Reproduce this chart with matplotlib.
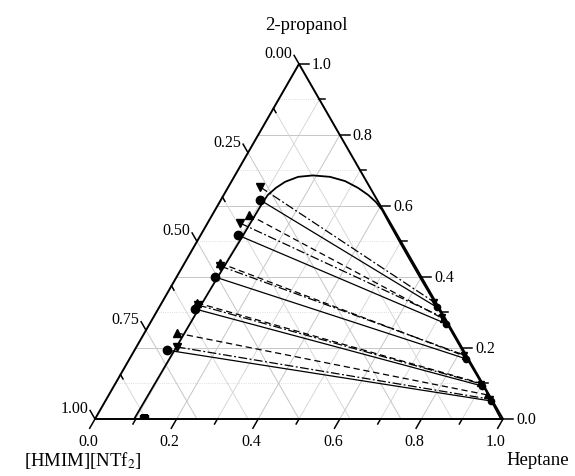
import numpy as np
import matplotlib.pyplot as plt
from matplotlib.patches import Polygon

plt.rcParams['font.family'] = ['Liberation Serif', 'DejaVu Serif']
plt.rcParams['mathtext.fontset'] = 'stix'

# mass fractions: heptane (bottom axis), 2-propanol (right axis)
binodal_hep = [0.096, 0.097, 0.098, 0.099, 0.101, 0.104, 0.106, 0.108, 0.118, 0.132,
               0.157, 0.191, 0.235, 0.278, 0.319, 0.354, 0.383, 0.409, 0.442,
               0.520, 0.600, 0.680, 0.760, 0.840, 0.920, 0.995]
binodal_pro = [0.000, 0.100, 0.200, 0.300, 0.400, 0.500, 0.606, 0.631, 0.651, 0.668,
               0.682, 0.686, 0.682, 0.670, 0.651, 0.631, 0.611, 0.589, 0.555,
               0.476, 0.396, 0.317, 0.237, 0.157, 0.078, 0.000]

# tie lines: left end = IL-rich phase, right end = heptane-rich phase
circ_hep_l = [0.096, 0.091, 0.094, 0.090, 0.079]
circ_pro_l = [0.617, 0.518, 0.400, 0.310, 0.194]
circ_hep_r = [0.680, 0.727, 0.826, 0.902, 0.944]
circ_pro_r = [0.315, 0.268, 0.169, 0.093, 0.051]

down_hep_l = [0.077, 0.079, 0.091, 0.092, 0.099]
down_pro_l = [0.654, 0.552, 0.431, 0.321, 0.203]
down_hep_r = [0.665, 0.708, 0.815, 0.896, 0.939]
down_pro_r = [0.330, 0.287, 0.180, 0.099, 0.056]

up_hep_l = [0.090, 0.087, 0.087, 0.080]
up_pro_l = [0.575, 0.439, 0.327, 0.242]
up_hep_r = [0.713, 0.818, 0.894, 0.927]
up_pro_r = [0.282, 0.177, 0.101, 0.068]

binary_hep = [0.12]
binary_pro = [0.0]

bottom_labels = ['0.0', '0.2', '0.4', '0.6', '0.8', '1.0']
right_labels = ['0.0', '0.2', '0.4', '0.6', '0.8', '1.0']
left_labels = ['0.00', '0.25', '0.50', '0.75', '1.00']

S = np.sqrt(3) / 2


def tern(h, p):
    h = np.asarray(h, float)
    p = np.asarray(p, float)
    return h + p / 2, p * S


fig = plt.figure(figsize=(5.75, 4.77), dpi=100)
ax = fig.add_axes([0, 0, 1, 1])
ax.set_xlim(-95 / 408, 480 / 408)
ax.set_ylim(-57 / 410, 420 / 410)
ax.set_axis_off()

# grid
gmaj = dict(color='#c6c6c6', lw=0.7, zorder=1)
gmin = dict(color='#d2d2d2', lw=0.6, zorder=1)
for i in range(1, 10):
    v = i / 10
    major = i % 2 == 0
    x, y = tern([0, 1 - v], [v, v])
    ax.plot(x, y, ls='-' if major else ':', **(gmaj if major else gmin))
    x, y = tern([v, v], [0, 1 - v])
    ax.plot(x, y, **(gmaj if major else gmin))
for i in range(1, 8):
    t = i / 8
    x, y = tern([0, 1 - t], [1 - t, 0])
    ax.plot(x, y, **(gmaj if i % 2 == 0 else gmin))

# frame
tri = Polygon([[0, 0], [1, 0], [0.5, S]], closed=True, fill=False,
              edgecolor='k', lw=1.4, zorder=5)
ax.add_patch(tri)

tk = dict(color='k', lw=1.1, clip_on=False, zorder=5)
fs_tick = 11.5

# bottom axis (heptane)
for i in range(11):
    h = i / 10
    L = 0.026 if i % 2 == 0 else 0.014
    x0, y0 = tern(h, 0)
    x1, y1 = x0 - 0.5 * L, y0 - S * L
    ax.plot([x0, x1], [y0, y1], **tk)
    if i % 2 == 0:
        ax.text(x1 - 0.004, y1 - 0.012, bottom_labels[i // 2], ha='center', va='top',
                fontsize=fs_tick)

# right axis (2-propanol)
for i in range(11):
    p = i / 10
    L = 0.024 if i % 2 == 0 else 0.014
    x0, y0 = tern(1 - p, p)
    ax.plot([x0, x0 + L], [y0, y0], **tk)
    if i % 2 == 0:
        ax.text(x0 + L + 0.008, y0, right_labels[i // 2], ha='left', va='center',
                fontsize=fs_tick)

# left axis ([HMIM][NTf2])
for i in range(9):
    t = i / 8
    x0, y0 = tern(0, 1 - t)
    if i % 2 == 0:
        L = 0.024
        x1, y1 = x0 - 0.5 * L, y0 + S * L
        ax.plot([x0, x1], [y0, y1], **tk)
        ax.text(x1 - 0.004, y1 + 0.006, left_labels[i // 2], ha='right', va='center',
                fontsize=fs_tick)
    else:
        L = 0.012
        ax.plot([x0, x0 + 0.5 * L], [y0, y0 - S * L], **tk)

# binodal
x, y = tern(binodal_hep, binodal_pro)
ax.plot(x, y, color='k', lw=1.3, zorder=4)

# tie lines
ts = dict(color='k', lw=0.9, zorder=3)
for hl, pl, hr, pr in zip(circ_hep_l, circ_pro_l, circ_hep_r, circ_pro_r):
    x, y = tern([hl, hr], [pl, pr])
    ax.plot(x, y, ls='-', **ts)
for hl, pl, hr, pr in zip(up_hep_l, up_pro_l, up_hep_r, up_pro_r):
    x, y = tern([hl, hr], [pl, pr])
    ax.plot(x, y, ls=(0, (5, 3)), **ts)
for hl, pl, hr, pr in zip(down_hep_l, down_pro_l, down_hep_r, down_pro_r):
    x, y = tern([hl, hr], [pl, pr])
    ax.plot(x, y, ls=(0, (7, 2, 1.5, 2)), **ts)

# markers: IL-rich side
mk = dict(color='k', ls='none', ms=6, zorder=6)
ax.plot(*tern(circ_hep_l, circ_pro_l), marker='o', **mk)
ax.plot(*tern(up_hep_l, up_pro_l), marker='^', **mk)
ax.plot(*tern(down_hep_l, down_pro_l), marker='v', **mk)
# heptane-rich side
mk['ms'] = 4.5
ax.plot(*tern(circ_hep_r, circ_pro_r), marker='o', **mk)
ax.plot(*tern(up_hep_r, up_pro_r), marker='^', **mk)
ax.plot(*tern(down_hep_r, down_pro_r), marker='v', **mk)

m, = ax.plot(*tern(binary_hep, binary_pro), marker='s', color='k', ls='none',
             ms=6, zorder=4)
m.set_clip_path(tri)

# component names
fs_name = 13.5
ax.text(0.518, (420 - 25) / 410, '2-propanol', ha='center', va='center', fontsize=fs_name)
ax.text(1.085, (420 - 461) / 410, 'Heptane', ha='center', va='center', fontsize=fs_name)
ax.text(-0.174, (420 - 461) / 410, '[HMIM][NTf$_2$]', ha='left', va='center',
        fontsize=fs_name)

fig.savefig('out.png', dpi=100)
